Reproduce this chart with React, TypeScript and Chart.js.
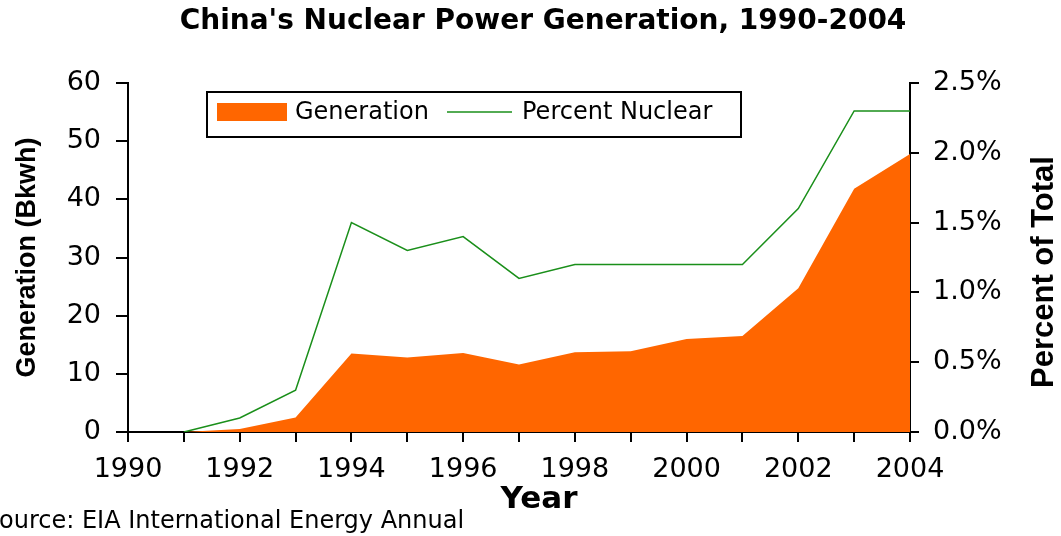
import React, { useEffect, useRef } from 'react';
import { Chart, registerables } from 'chart.js';

Chart.register(...registerables);

const years = [1990, 1991, 1992, 1993, 1994, 1995, 1996, 1997, 1998, 1999, 2000, 2001, 2002, 2003, 2004];
const generation = [0, 0, 0.5, 2.5, 13.5, 12.8, 13.6, 11.6, 13.7, 13.9, 16.0, 16.5, 24.7, 41.8, 47.8];
const percentNuclear = [null, 0, 0.1, 0.3, 1.5, 1.3, 1.4, 1.1, 1.2, 1.2, 1.2, 1.2, 1.6, 2.3, 2.3];
const labeledYears = [1990, 1992, 1994, 1996, 1998, 2000, 2002, 2004];

const titleText = "China's Nuclear Power Generation, 1990-2004";
const leftTitle = 'Generation (Bkwh)';
const rightTitle = 'Percent of Total';
const xTitle = 'Year';
const sourceText = 'Source: EIA International Energy Annual';
const legendLabels = ['Generation', 'Percent Nuclear'];

const ORANGE = '#FF6600';
const GREEN = '#1a8f1a';

const overlayPlugin = {
  id: 'overlay',
  afterDraw(chart: any) {
    const ctx = chart.ctx;
    const ca = chart.chartArea;
    ctx.save();
    // chart title
    ctx.font = 'bold 28px "DejaVu Sans"';
    ctx.fillStyle = '#000';
    ctx.textAlign = 'center';
    ctx.textBaseline = 'middle';
    ctx.fillText(titleText, 543, 22);

    // legend box
    const lx = ca.left + 79;
    const ly = ca.top + 9;
    const lw = 534;
    const lh = 45;
    ctx.fillStyle = '#fff';
    ctx.fillRect(lx, ly, lw, lh);
    ctx.strokeStyle = '#000';
    ctx.lineWidth = 2;
    ctx.strokeRect(lx, ly, lw, lh);
    ctx.fillStyle = ORANGE;
    ctx.fillRect(lx + 10, ly + 11, 70, 18);
    ctx.font = '24px "DejaVu Sans"';
    ctx.fillStyle = '#000';
    ctx.textBaseline = 'middle';
    ctx.textAlign = 'left';
    ctx.fillText(legendLabels[0], lx + 88, ly + 21);
    ctx.strokeStyle = GREEN;
    ctx.lineWidth = 1.5;
    ctx.beginPath();
    ctx.moveTo(lx + 240, ly + 20);
    ctx.lineTo(lx + 305, ly + 20);
    ctx.stroke();
    ctx.fillText(legendLabels[1], lx + 315, ly + 21);

    // x axis title
    ctx.font = 'bold 31px "DejaVu Sans"';
    ctx.textAlign = 'center';
    ctx.textBaseline = 'middle';
    ctx.fillText(xTitle, 539, 500);

    // right axis title (reads bottom to top)
    ctx.save();
    ctx.translate(1044, 272);
    ctx.rotate(-Math.PI / 2);
    ctx.font = 'bold 31px "Liberation Sans"';
    ctx.textAlign = 'center';
    ctx.textBaseline = 'middle';
    ctx.fillStyle = '#000';
    ctx.fillText(rightTitle, 0, 0);
    ctx.restore();

    // source
    ctx.font = '24px "DejaVu Sans"';
    ctx.fillStyle = '#000';
    ctx.textAlign = 'left';
    ctx.textBaseline = 'middle';
    const sW = ctx.measureText('S').width;
    ctx.fillText(sourceText, -sW - 1, 522);
    ctx.restore();
  },
};

export default function App() {
  const canvasRef = useRef<HTMLCanvasElement>(null);

  useEffect(() => {
    const canvas = canvasRef.current;
    if (!canvas) return;
    Chart.defaults.color = '#000';
    const chart = new Chart(canvas, {
      type: 'line',
      data: {
        datasets: [
          {
            label: legendLabels[1],
            data: years.map((y, i) => ({ x: y, y: percentNuclear[i] })),
            yAxisID: 'y1',
            borderColor: GREEN,
            borderWidth: 1.5,
            pointRadius: 0,
            tension: 0,
            fill: false,
            order: 1,
          },
          {
            label: legendLabels[0],
            data: years.map((y, i) => ({ x: y, y: generation[i] })),
            yAxisID: 'y',
            borderColor: ORANGE,
            backgroundColor: ORANGE,
            borderWidth: 0,
            pointRadius: 0,
            tension: 0,
            fill: 'origin',
            order: 2,
          },
        ],
      },
      options: {
        responsive: false,
        animation: false,
        layout: { padding: 0 },
        plugins: {
          legend: { display: false },
          tooltip: { enabled: false },
          title: {
            display: true,
            text: titleText,
            font: { family: '"DejaVu Sans"', size: 28, weight: 'bold' },
            color: 'rgba(0,0,0,0)',
            padding: { top: 6, bottom: 43.4 },
          },
        },
        scales: {
          x: {
            type: 'linear',
            min: 1990,
            max: 2004,
            afterFit: (s: any) => { s.height = 104; },
            ticks: {
              stepSize: 1,
              autoSkip: false,
              maxRotation: 0,
              padding: 12,
              font: { family: '"DejaVu Sans"', size: 27 },
              callback: (v: any) => (labeledYears.includes(Number(v)) ? String(v) : ''),
            },
            grid: { display: true, drawOnChartArea: false, drawTicks: true, tickLength: 10, color: '#000', lineWidth: 2 },
            border: { display: true, color: '#000', width: 2 },
            title: { display: false },
          },
          y: {
            position: 'left',
            min: 0,
            max: 60,
            afterFit: (s: any) => { s.width = 128; },
            ticks: { stepSize: 10, padding: 15, font: { family: '"DejaVu Sans"', size: 27 } },
            grid: { display: true, drawOnChartArea: false, drawTicks: true, tickLength: 12, color: '#000', lineWidth: 2 },
            border: { display: true, color: '#000', width: 2 },
            title: {
              display: true,
              text: leftTitle,
              font: { family: '"Liberation Sans"', size: 27, weight: 'bold' },
              padding: { top: 11, bottom: 0 },
            },
          },
          y1: {
            position: 'right',
            min: 0,
            max: 2.5,
            afterFit: (s: any) => { s.width = 151; },
            ticks: {
              stepSize: 0.5,
              padding: 14,
              font: { family: '"DejaVu Sans"', size: 27 },
              callback: (v: any) => Number(v).toFixed(1) + '%',
            },
            grid: { display: true, drawOnChartArea: false, drawTicks: true, tickLength: 9, color: '#000', lineWidth: 2 },
            border: { display: true, color: '#000', width: 2 },
            title: { display: false },
          },
        },
      },
      plugins: [overlayPlugin],
    });
    return () => chart.destroy();
  }, []);

  return (
    <div style={{ position: 'fixed', left: 0, top: 0, width: 1061, height: 536, background: '#fff' }}>
      <canvas ref={canvasRef} width={1061} height={536} style={{ display: 'block' }} />
    </div>
  );
}
